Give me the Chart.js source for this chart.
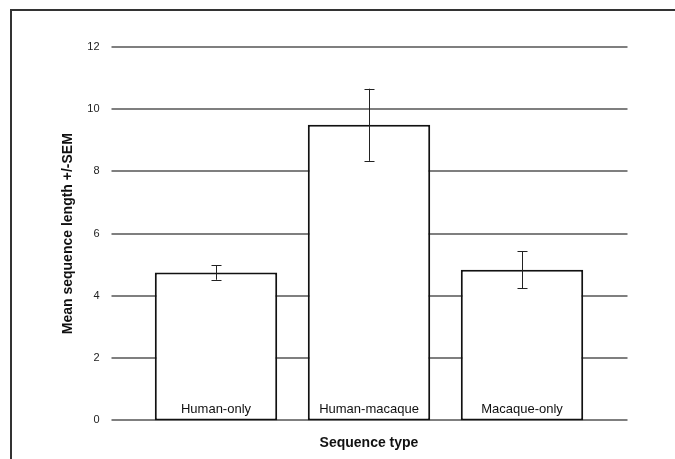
<!DOCTYPE html>
<html>
<head>
<meta charset="utf-8">
<script src="https://cdn.jsdelivr.net/npm/chart.js@4"></script>
<style>
html,body{margin:0;padding:0;background:#fff;}
#wrap{position:relative;width:675px;height:459px;overflow:hidden;}
#frame{position:absolute;left:10px;top:9px;width:800px;height:600px;border-left:2px solid #333;border-top:2px solid #333;pointer-events:none;}
canvas{position:absolute;left:0;top:0;}
</style>
</head>
<body>
<div id="wrap">
<canvas id="c" width="675" height="459"></canvas>
<div id="frame"></div>
</div>
<script>
const categories = ["Human-only", "Human-macaque", "Macaque-only"];
const means = [4.75, 9.5, 4.84];
const sems = [0.23, 1.16, 0.6];
const yTicks = [0, 2, 4, 6, 8, 10, 12];
const xTitle = "Sequence type";
const yTitle = "Mean sequence length +/-SEM";

const FONT = "'Liberation Sans', Arial, Helvetica, sans-serif";

const customDraw = {
  id: 'customDraw',
  beforeDatasetsDraw(chart) {
    const {ctx, chartArea, scales} = chart;
    const y = scales.y;
    ctx.save();
    ctx.strokeStyle = '#555';
    ctx.lineWidth = 1.5;
    yTicks.forEach(v => {
      const py = Math.round(y.getPixelForValue(v));
      ctx.beginPath();
      ctx.moveTo(chartArea.left - 28, py);
      ctx.lineTo(chartArea.right + 29, py);
      ctx.stroke();
    });
    ctx.restore();
  },
  afterDatasetsDraw(chart) {
    const {ctx, scales} = chart;
    const x = scales.x, y = scales.y;
    ctx.save();
    // error bars
    ctx.strokeStyle = '#222';
    ctx.lineWidth = 1;
    means.forEach((m, i) => {
      const px = Math.round(x.getPixelForValue(i)) + 0.5;
      const top = y.getPixelForValue(m + sems[i]);
      const bot = y.getPixelForValue(m - sems[i]);
      ctx.beginPath();
      ctx.moveTo(px, top); ctx.lineTo(px, bot);
      ctx.moveTo(px - 5, Math.round(top) + 0.5); ctx.lineTo(px + 5, Math.round(top) + 0.5);
      ctx.moveTo(px - 5, Math.round(bot) + 0.5); ctx.lineTo(px + 5, Math.round(bot) + 0.5);
      ctx.stroke();
    });
    // category labels inside bars
    ctx.fillStyle = '#111';
    ctx.font = "13px " + FONT;
    ctx.textAlign = 'center';
    ctx.textBaseline = 'middle';
    categories.forEach((c, i) => {
      ctx.fillText(c, x.getPixelForValue(i), y.getPixelForValue(0) - 11);
    });
    ctx.restore();
  }
};

new Chart(document.getElementById('c'), {
  type: 'bar',
  data: {
    labels: categories,
    datasets: [{
      data: means,
      backgroundColor: '#fff',
      borderColor: '#111',
      borderWidth: 2,
      borderSkipped: false,
      categoryPercentage: 1,
      barPercentage: 0.8
    }]
  },
  options: {
    responsive: false,
    animation: false,
    events: [],
    layout: { padding: { left: 0, right: 76.5, top: 47, bottom: 0 } },
    plugins: { legend: { display: false }, tooltip: { enabled: false } },
    scales: {
      x: {
        offset: true,
        grid: { display: false },
        border: { display: false },
        ticks: { display: false },
        title: { display: true, text: xTitle, color: '#111', font: { family: FONT, size: 14, weight: 'bold' }, padding: { top: 0, bottom: 0 } },
        afterFit(s) { s.height = 31; }
      },
      y: {
        min: 0, max: 12,
        afterBuildTicks(s) { s.ticks = yTicks.map(v => ({ value: v })); },
        grid: { display: false },
        border: { display: false },
        ticks: { color: '#222', padding: 32, font: { family: FONT, size: 11 } },
        title: { display: true, text: yTitle, color: '#111', font: { family: FONT, size: 14, weight: 'bold' }, padding: { top: 60, bottom: 0 } },
        afterFit(s) { s.width = 139.5; }
      }
    }
  },
  plugins: [customDraw]
});
</script>
</body>
</html>
